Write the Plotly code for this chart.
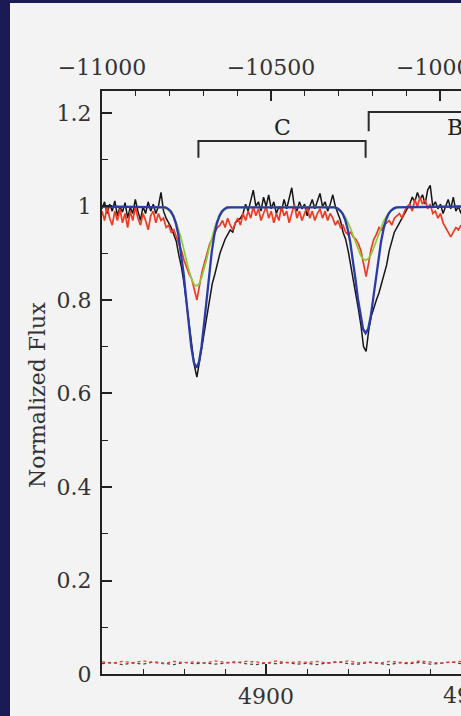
import plotly.graph_objects as go

# ---------------- data ----------------
# observed spectra on the instrument pixel grid (Angstrom)
WAVE_START = 4892.0
WAVE_STEP = 0.125

BLACK_FLUX = [
    0.995, 1.010, 0.985, 1.005, 0.990, 1.012, 0.980, 1.000,
    0.988, 1.008, 0.975, 0.998, 0.985, 1.015, 0.990, 0.970,
    1.000, 0.985, 1.010, 0.990, 1.005, 0.985, 1.000, 1.030,
    0.990, 0.975, 0.965, 0.955, 0.940, 0.925, 0.895, 0.870,
    0.835, 0.790, 0.745, 0.700, 0.660, 0.635, 0.665, 0.700,
    0.735, 0.770, 0.800, 0.835, 0.855, 0.880, 0.900, 0.915,
    0.930, 0.940, 0.950, 0.945, 0.965, 0.970, 0.975, 0.985,
    1.005, 0.990, 1.015, 1.035, 1.000, 1.010, 0.990, 1.020,
    1.000, 1.025, 0.995, 1.010, 0.985, 1.000, 0.990, 1.015,
    0.995, 1.020, 1.040, 1.000, 0.990, 1.010, 0.995, 1.005,
    0.980, 1.000, 1.015, 0.995, 1.010, 1.028, 1.000, 1.010,
    0.990, 1.005, 1.025, 1.000, 0.985, 0.970, 0.945, 0.930,
    0.905, 0.875, 0.845, 0.810, 0.780, 0.745, 0.700, 0.690,
    0.735, 0.765, 0.785, 0.800, 0.815, 0.835, 0.850, 0.875,
    0.905, 0.925, 0.945, 0.955, 0.965, 0.975, 0.985, 0.995,
    1.005, 1.020, 1.010, 1.030, 1.015, 1.025, 1.005, 1.035,
    1.045, 1.000, 1.010, 0.995, 1.005, 0.985, 1.000, 1.015,
    0.995, 1.020, 0.990, 1.000, 0.985,
]

RED_FLUX = [
    0.990, 0.970, 1.000, 0.975, 0.960, 0.990, 0.970, 0.995,
    0.965, 0.985, 0.955, 0.990, 0.970, 1.000, 0.975, 0.960,
    0.985, 0.970, 0.950, 0.980, 0.990, 0.965, 0.985, 0.970,
    0.975, 0.955, 0.960, 0.945, 0.950, 0.935, 0.920, 0.905,
    0.885, 0.870, 0.855, 0.845, 0.820, 0.800, 0.830, 0.860,
    0.880, 0.900, 0.920, 0.930, 0.945, 0.955, 0.960, 0.970,
    0.955, 0.975, 0.960, 0.950, 0.965, 0.975, 0.960, 0.985,
    0.970, 0.990, 0.975, 1.000, 0.980, 0.995, 0.970, 0.985,
    1.000, 0.975, 0.990, 0.965, 0.985, 0.970, 1.000, 0.980,
    0.990, 0.965, 0.985, 1.005, 0.975, 0.990, 0.970, 0.985,
    1.000, 0.975, 0.990, 0.970, 0.985, 0.995, 0.975, 0.990,
    0.970, 0.985, 0.975, 0.960, 0.970, 0.955, 0.960, 0.945,
    0.940, 0.945, 0.935, 0.930, 0.920, 0.905, 0.880, 0.850,
    0.880, 0.910, 0.930, 0.940, 0.955, 0.950, 0.960, 0.965,
    0.970, 0.960, 0.975, 0.980, 0.985, 0.975, 0.990, 1.000,
    1.005, 0.990, 1.015, 1.000, 1.020, 1.005, 1.015, 0.995,
    1.005, 0.985, 0.990, 0.975, 0.985, 0.965, 0.955, 0.945,
    0.935, 0.945, 0.955, 0.950, 0.960,
]

# blue model
BLUE_WAVE = [4892.0] + [
    4895.1, 4895.225, 4895.35, 4895.475, 4895.6, 4895.725, 4895.85, 4895.975,
    4896.1, 4896.225, 4896.35, 4896.475, 4896.6, 4896.725, 4896.85, 4896.975,
    4897.1, 4897.225, 4897.35, 4897.475, 4897.6, 4897.725, 4897.85, 4897.975, 4898.1,
] + [
    4903.35, 4903.475, 4903.6, 4903.725, 4903.85, 4903.975, 4904.1, 4904.225,
    4904.35, 4904.475, 4904.6, 4904.725, 4904.85, 4904.975, 4905.1, 4905.225,
    4905.35, 4905.475, 4905.6, 4905.725, 4905.85, 4905.975, 4906.1, 4906.225, 4906.35,
] + [4909.5]
BLUE_FLUX = [1.0] + [
    0.998, 0.995, 0.990, 0.980, 0.964, 0.939, 0.903, 0.858,
    0.804, 0.749, 0.700, 0.667, 0.655, 0.667, 0.700, 0.749,
    0.804, 0.858, 0.903, 0.939, 0.964, 0.980, 0.990, 0.995, 0.998,
] + [
    0.998, 0.996, 0.992, 0.985, 0.972, 0.952, 0.924, 0.888,
    0.846, 0.803, 0.765, 0.738, 0.729, 0.738, 0.765, 0.803,
    0.846, 0.888, 0.924, 0.952, 0.972, 0.985, 0.992, 0.996, 0.998,
] + [1.0]

# green model
GREEN_WAVE = [4892.0] + [
    4894.975, 4895.1, 4895.225, 4895.35, 4895.475, 4895.6, 4895.725, 4895.85, 4895.975,
    4896.1, 4896.225, 4896.35, 4896.475, 4896.6, 4896.725, 4896.85, 4896.975,
    4897.1, 4897.225, 4897.35, 4897.475, 4897.6, 4897.725, 4897.85, 4897.975, 4898.1, 4898.225,
] + [
    4903.225, 4903.35, 4903.475, 4903.6, 4903.725, 4903.85, 4903.975, 4904.1, 4904.225,
    4904.35, 4904.475, 4904.6, 4904.725, 4904.85, 4904.975, 4905.1, 4905.225,
    4905.35, 4905.475, 4905.6, 4905.725, 4905.85, 4905.975, 4906.1, 4906.225, 4906.35, 4906.475,
] + [4909.5]
GREEN_FLUX = [1.0] + [
    0.998, 0.996, 0.993, 0.987, 0.979, 0.968, 0.952, 0.933, 0.911,
    0.887, 0.865, 0.847, 0.834, 0.830, 0.834, 0.847, 0.865,
    0.887, 0.911, 0.933, 0.952, 0.968, 0.979, 0.987, 0.993, 0.996, 0.998,
] + [
    0.999, 0.997, 0.995, 0.991, 0.986, 0.978, 0.968, 0.955, 0.940,
    0.924, 0.909, 0.896, 0.888, 0.885, 0.888, 0.896, 0.909,
    0.924, 0.940, 0.955, 0.968, 0.978, 0.986, 0.991, 0.995, 0.997, 0.999,
] + [1.0]

# error spectra (dotted, near zero)
ERR_WAVE = [
    4892.0, 4892.5, 4893.0, 4893.5, 4894.0, 4894.5, 4895.0, 4895.5, 4896.0,
    4896.5, 4897.0, 4897.5, 4898.0, 4898.5, 4899.0, 4899.5, 4900.0, 4900.5,
    4901.0, 4901.5, 4902.0, 4902.5, 4903.0, 4903.5, 4904.0, 4904.5, 4905.0,
    4905.5, 4906.0, 4906.5, 4907.0, 4907.5, 4908.0, 4908.5, 4909.0, 4909.5,
]
ERR_BLACK = [
    0.022, 0.025, 0.020, 0.024, 0.021, 0.026, 0.023, 0.020, 0.025,
    0.022, 0.024, 0.021, 0.023, 0.026, 0.022, 0.020, 0.024, 0.022,
    0.025, 0.021, 0.023, 0.020, 0.024, 0.026, 0.022, 0.021, 0.025,
    0.023, 0.020, 0.024, 0.022, 0.025, 0.021, 0.023, 0.026, 0.022,
]
ERR_RED = [
    0.026, 0.023, 0.027, 0.024, 0.028, 0.025, 0.022, 0.027, 0.024,
    0.026, 0.023, 0.028, 0.025, 0.024, 0.027, 0.026, 0.023, 0.028,
    0.024, 0.026, 0.025, 0.027, 0.023, 0.025, 0.028, 0.024, 0.026,
    0.023, 0.027, 0.025, 0.024, 0.028, 0.026, 0.023, 0.025, 0.027,
]

# velocity-component brackets
BRACKET_LABELS = ["C", "B"]
BRACKET_X0 = [4896.7, 4905.0]
BRACKET_X1 = [4904.85, 4913.4]
BRACKET_TOP = [1.140, 1.202]
BRACKET_TICK = [1.104, 1.161]
BRACKET_LABEL_X = [4900.78, 4909.2]
BRACKET_LABEL_Y = [1.170, 1.170]

# axes
X_RANGE = [4892.0, 4909.5]
Y_RANGE = [0.0, 1.247]
BOTTOM_TICKS = [4900, 4910]
BOTTOM_LABELS = ["4900", "4910"]
TOP_RANGE = [-11000, -9937.8]
TOP_TICKS = [-11000, -10500, -10000]
TOP_LABELS = ["\u221211000", "\u221210500", "\u221210000"]
Y_TICKS = [0, 0.2, 0.4, 0.6, 0.8, 1.0, 1.2]
Y_LABELS = ["0", "0.2", "0.4", "0.6", "0.8", "1", "1.2"]

# ---------------- style ----------------
NAVY = "#1b1a55"
PANEL = "#f4f3f4"
AXIS = "#222222"
TXT = "#333333"
FONT = "DejaVu Serif"
W, H = 461, 716
ML, MT, MB, MR = 102, 91, 42, 0

wave = [WAVE_START + i * WAVE_STEP for i in range(len(BLACK_FLUX))]

fig = go.Figure()
fig.add_trace(go.Scatter(x=ERR_WAVE, y=ERR_BLACK, mode="lines",
                         line=dict(color="#444444", width=1.3, dash="dot"), hoverinfo="skip"))
fig.add_trace(go.Scatter(x=ERR_WAVE, y=ERR_RED, mode="lines",
                         line=dict(color="#e8402a", width=1.3, dash="dot"), hoverinfo="skip"))
fig.add_trace(go.Scatter(x=wave, y=BLACK_FLUX, mode="lines",
                         line=dict(color="#151515", width=1.5)))
fig.add_trace(go.Scatter(x=wave, y=RED_FLUX, mode="lines",
                         line=dict(color="#f03a22", width=1.7)))
fig.add_trace(go.Scatter(x=GREEN_WAVE, y=GREEN_FLUX, mode="lines",
                         line=dict(color="#8ccc3c", width=1.7)))
fig.add_trace(go.Scatter(x=BLUE_WAVE, y=BLUE_FLUX, mode="lines",
                         line=dict(color="#2a3aaa", width=2.3)))

for i in range(len(BRACKET_LABELS)):
    fig.add_trace(go.Scatter(
        x=[BRACKET_X0[i], BRACKET_X0[i], BRACKET_X1[i], BRACKET_X1[i]],
        y=[BRACKET_TICK[i], BRACKET_TOP[i], BRACKET_TOP[i], BRACKET_TICK[i]],
        mode="lines", line=dict(color="#2b2b2b", width=2), hoverinfo="skip"))
    fig.add_annotation(x=BRACKET_LABEL_X[i], y=BRACKET_LABEL_Y[i], xref="x", yref="y",
                       xanchor="center", yanchor="middle",
                       text=BRACKET_LABELS[i], showarrow=False,
                       font=dict(family=FONT, size=22, color="#222222"))

# invisible trace to carry the top velocity axis
fig.add_trace(go.Scatter(x=TOP_TICKS, y=[None] * len(TOP_TICKS), xaxis="x2",
                         mode="lines", hoverinfo="skip", showlegend=False))

plot_w = W - ML - MR
plot_h = H - MT - MB

tickfont = dict(family=FONT, size=22, color=TXT)

# tick labels that run past the right page edge are drawn as clipped annotations
def frac(v, rng):
    return (v - rng[0]) / (rng[1] - rng[0])

for v, lab in zip(BOTTOM_TICKS, BOTTOM_LABELS):
    if frac(v, X_RANGE) > 0.9:
        fig.add_annotation(x=frac(v, X_RANGE), y=0,
                           xref="paper", yref="paper", xanchor="center", yanchor="top", yshift=-7,
                           text=lab, showarrow=False, font=tickfont)

top_vals = [v for v in TOP_TICKS if frac(v, TOP_RANGE) <= 0.9]
top_text = [t for v, t in zip(TOP_TICKS, TOP_LABELS) if frac(v, TOP_RANGE) <= 0.9]
for v, lab in zip(TOP_TICKS, TOP_LABELS):
    if frac(v, TOP_RANGE) > 0.9:
        fig.add_annotation(x=frac(v, TOP_RANGE), y=1,
                           xref="paper", yref="paper", xanchor="center", yanchor="bottom", yshift=9,
                           text=lab, showarrow=False, font=tickfont)

# y axis title
fig.add_annotation(x=(37 - ML) / plot_w, y=(H - MB - 395) / plot_h, xref="paper", yref="paper",
                   xanchor="center", yanchor="middle",
                   text="Normalized Flux", textangle=-90, showarrow=False,
                   font=dict(family=FONT, size=22, color=TXT))

# dark frame strips (left and top)
fig.add_shape(type="rect", xref="paper", yref="paper",
              x0=-0.5, x1=(10 - ML) / plot_w, y0=-0.12, y1=1.2,
              fillcolor=NAVY, line=dict(width=0), layer="below")
fig.add_shape(type="rect", xref="paper", yref="paper",
              x0=-0.5, x1=1.5, y0=(H - MB - 3) / plot_h, y1=1.2,
              fillcolor=NAVY, line=dict(width=0), layer="below")

fig.update_layout(
    width=W, height=H,
    margin=dict(l=ML, r=MR, t=MT, b=MB, pad=0),
    paper_bgcolor=PANEL, plot_bgcolor=PANEL,
    showlegend=False,
    xaxis=dict(range=X_RANGE, tickmode="array", tickvals=BOTTOM_TICKS, ticktext=BOTTOM_LABELS,
               ticks="inside", ticklen=10, tickwidth=1.5, tickcolor=AXIS,
               minor=dict(dtick=2, tick0=4900, ticks="inside", ticklen=5, tickwidth=1.3, tickcolor=AXIS),
               showline=True, linecolor=AXIS, linewidth=2, mirror=False,
               showgrid=False, zeroline=False, tickfont=tickfont, ticklabelstandoff=2),
    xaxis2=dict(range=TOP_RANGE, overlaying="x", side="top", anchor="y",
                tickmode="array", tickvals=TOP_TICKS, ticktext=[t if v in top_vals else "" for v, t in zip(TOP_TICKS, TOP_LABELS)],
                ticks="inside", ticklen=10, tickwidth=1.5, tickcolor=AXIS,
                minor=dict(dtick=100, tick0=-11000, ticks="inside", ticklen=5, tickwidth=1.3, tickcolor=AXIS),
                showline=True, linecolor=AXIS, linewidth=2,
                showgrid=False, zeroline=False, tickfont=tickfont, ticklabelstandoff=5),
    yaxis=dict(range=Y_RANGE, tickmode="array", tickvals=Y_TICKS, ticktext=Y_LABELS,
               ticks="inside", ticklen=10, tickwidth=1.5, tickcolor=AXIS,
               minor=dict(dtick=0.1, tick0=0, ticks="inside", ticklen=6, tickwidth=1.3, tickcolor=AXIS),
               showline=True, linecolor=AXIS, linewidth=2, mirror=False,
               showgrid=False, zeroline=False, tickfont=tickfont, ticklabelstandoff=4),
)

fig.write_html(
    "out.html",
    config={"displayModeBar": False},
    post_script="document.body.style.margin='0';document.body.style.overflow='hidden';"
                "document.body.style.background='" + PANEL + "';",
)
